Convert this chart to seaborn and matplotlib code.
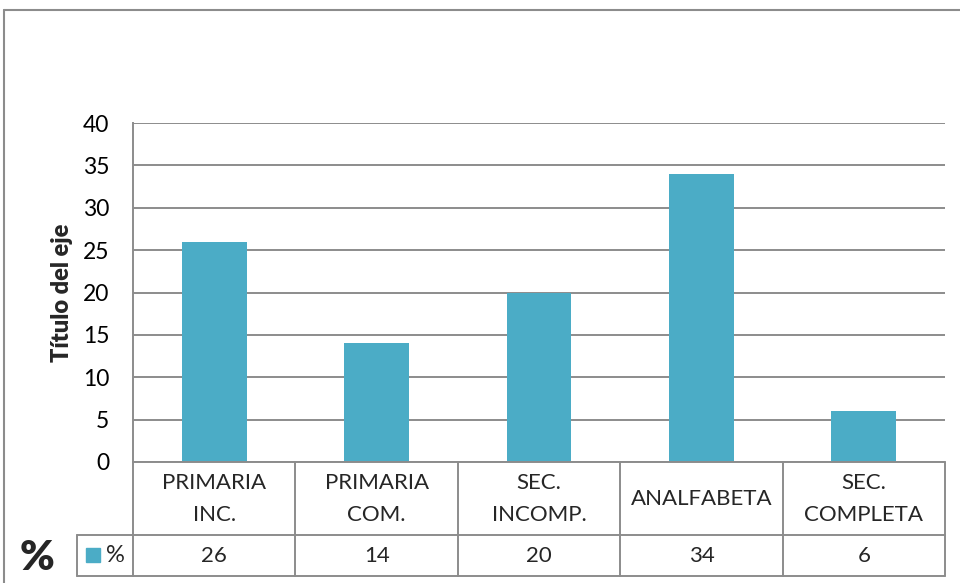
import matplotlib
matplotlib.use("Agg")
import matplotlib.pyplot as plt
import matplotlib.transforms as mtransforms
from matplotlib.lines import Line2D
from matplotlib.patches import Rectangle
import seaborn as sns

# datos del grafico
categorias = ["PRIMARIA\nINC.", "PRIMARIA\nCOM.", "SEC.\nINCOMP.", "ANALFABETA", "SEC.\nCOMPLETA"]
porcentajes = [26, 14, 20, 34, 6]
marcas_y = [0, 5, 10, 15, 20, 25, 30, 35, 40]
serie = "%"

sns.set_theme(style="white")
plt.rcParams['font.family'] = ['Lato', 'DejaVu Sans']

W, H = 960, 583
gris = "#8C8C8C"
azul = "#4BACC6"

fig = plt.figure(figsize=(W / 100, H / 100), dpi=100)


def fx(x):
    return x / W


def fy(y):
    return 1 - y / H


# area de trazado
ax = fig.add_axes([fx(133), fy(462), (945 - 133) / W, (462 - 123) / H])
sns.barplot(x=list(range(len(categorias))), y=porcentajes, color=azul,
            width=0.4, saturation=1, linewidth=0, ax=ax)
ax.set_xlim(-0.5, len(categorias) - 0.5)
ax.set_ylim(0, 40)
ax.set_yticks(marcas_y)
ax.yaxis.grid(True, color=gris, linewidth=1.4)
ax.set_axisbelow(True)
ax.set_xticks([])
ax.set_xlabel("")
ax.set_ylabel("Título del eje", fontsize=17, fontweight="heavy", labelpad=7)
for s in ["top", "right", "bottom"]:
    ax.spines[s].set_visible(False)
ax.spines["left"].set_color(gris)
ax.spines["left"].set_linewidth(1.4)
ax.tick_params(axis="y", length=0, pad=17, labelsize=16.5, colors="black")

# tabla de datos debajo del eje
pix = mtransforms.Affine2D().scale(1 / W, -1 / H).translate(0, 1) + fig.transFigure
mezcla = mtransforms.blended_transform_factory(ax.transData, pix)


def linea(xs, ys, tr):
    fig.add_artist(Line2D(xs, ys, transform=tr, color=gris, linewidth=1.4, clip_on=False))


linea([-0.5, 4.5], [462, 462], mezcla)
for yy in [535, 576]:
    linea([77, 945], [yy, yy], pix)
linea([77, 77], [535, 576], pix)
for i in range(len(categorias) + 1):
    linea([i - 0.5, i - 0.5], [462, 576], mezcla)

for i, (cat, val) in enumerate(zip(categorias, porcentajes)):
    fig.text(i, 499, cat, transform=mezcla, ha="center", va="center",
             fontsize=16, linespacing=1.8)
    fig.text(i, 556, str(val), transform=mezcla, ha="center", va="center", fontsize=16)

# clave de leyenda
fig.add_artist(Rectangle((86, 562), 14, -14, transform=pix, color=azul))
fig.text(106, 555, serie, transform=pix, ha="left", va="center", fontsize=17)

fig.text(37, 558, "%", transform=pix, ha="center", va="center",
         fontsize=30, fontweight="heavy")

# borde del area del grafico
fig.add_artist(Line2D([4, 960], [10, 10], transform=pix, color=gris, linewidth=1.5))
fig.add_artist(Line2D([4, 4], [10, 583], transform=pix, color=gris, linewidth=1.5))

fig.savefig("out.png", dpi=100, facecolor="white")
